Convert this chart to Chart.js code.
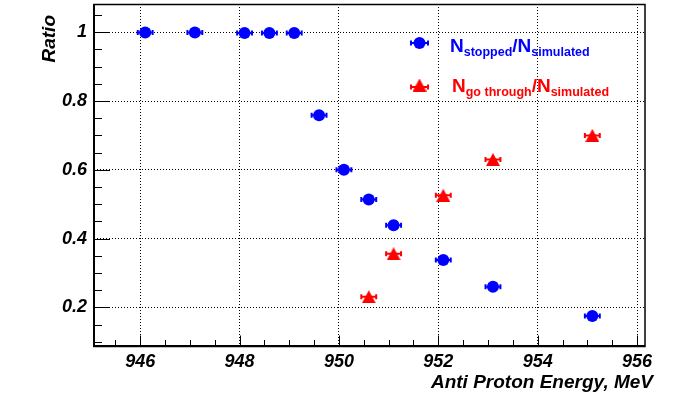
<!DOCTYPE html>
<html>
<head>
<meta charset="utf-8">
<script src="https://cdn.jsdelivr.net/npm/chart.js@4.4.1/dist/chart.umd.min.js"></script>
<style>
html, body { margin: 0; padding: 0; background: #fff; }
canvas { display: block; }
</style>
</head>
<body>
<canvas id="c" width="676" height="395"></canvas>
<script>
// anti proton energy (MeV) and fraction of simulated events
const stoppedX   = [946.1, 947.1, 948.1, 948.6, 949.1, 949.6, 950.1, 950.6, 951.1, 952.1, 953.1, 955.1];
const stoppedY   = [0.999, 0.999, 0.998, 0.998, 0.998, 0.759, 0.600, 0.514, 0.439, 0.338, 0.260, 0.175];
const stoppedErr = [0.15, 0.15, 0.15, 0.15, 0.15, 0.15, 0.15, 0.15, 0.15, 0.15, 0.15, 0.15];

const throughX   = [950.6, 951.1, 952.1, 953.1, 955.1];
const throughY   = [0.231, 0.356, 0.526, 0.630, 0.700];
const throughErr = [0.15, 0.15, 0.15, 0.15, 0.15];

const xTicks = [946, 948, 950, 952, 954, 956];
const yTicks = [0.2, 0.4, 0.6, 0.8, 1];

const BLUE = '#0000ff';
const RED = '#ff0000';
const TICK_FONT = { family: '"Liberation Sans", Arial, sans-serif', size: 18, weight: 'bold', style: 'italic' };

// triangle marker centred on its bounding box (ROOT style)
function makeTriangle(color) {
    const c = document.createElement('canvas');
    c.width = 14; c.height = 13;
    const g = c.getContext('2d');
    g.fillStyle = color;
    g.beginPath();
    g.moveTo(7, 0);
    g.lineTo(14, 13);
    g.lineTo(0, 13);
    g.closePath();
    g.fill();
    return c;
}
const triangle = makeTriangle(RED);

function points(xs, ys, errs) {
    return xs.map((x, i) => ({ x: x, y: ys[i], xErr: errs[i] }));
}

// ==============================
// EXTRA DRAWING (ROOT look)
// ==============================
function drawRatioLabel(ctx, x, y, color, sub1, sub2) {
    const big = 'bold 19px "Liberation Sans", Arial, sans-serif';
    const small = 'bold 12.5px "Liberation Sans", Arial, sans-serif';
    const parts = [['N', big, 0], [sub1, small, 4], ['/N', big, 0], [sub2, small, 4]];
    ctx.fillStyle = color;
    ctx.textAlign = 'left';
    ctx.textBaseline = 'alphabetic';
    parts.forEach(p => {
        ctx.font = p[1];
        ctx.fillText(p[0], x, y + p[2]);
        x += ctx.measureText(p[0]).width;
    });
}

function drawErrBar(ctx, x1, x2, y, color) {
    ctx.strokeStyle = color;
    ctx.lineWidth = 2;
    ctx.beginPath();
    ctx.moveTo(x1, y); ctx.lineTo(x2, y);
    ctx.moveTo(x1, y - 2.5); ctx.lineTo(x1, y + 2.5);
    ctx.moveTo(x2, y - 2.5); ctx.lineTo(x2, y + 2.5);
    ctx.stroke();
}

const rootStyle = {
    id: 'rootStyle',
    beforeDatasetsDraw(chart) {
        const ctx = chart.ctx, xs = chart.scales.x, ys = chart.scales.y;
        ctx.save();
        chart.data.datasets.forEach(ds => {
            ds.data.forEach(p => {
                const py = ys.getPixelForValue(p.y);
                drawErrBar(ctx, xs.getPixelForValue(p.x - p.xErr), xs.getPixelForValue(p.x + p.xErr), py, ds.backgroundColor);
            });
        });
        ctx.restore();
    },
    afterDraw(chart) {
        const ctx = chart.ctx, xs = chart.scales.x, ys = chart.scales.y;
        const a = chart.chartArea;
        ctx.save();

        // ticks inside the frame
        ctx.strokeStyle = '#000';
        ctx.lineWidth = 1;
        ctx.beginPath();
        for (let v = 0.1; v < ys.max; v += 0.05) {
            if (v < ys.min) continue;
            const y = Math.round(ys.getPixelForValue(v)) + 0.5;
            const major = yTicks.some(t => Math.abs(t - v) < 1e-6);
            ctx.moveTo(a.left, y); ctx.lineTo(a.left + (major ? 16 : 8), y);
        }
        for (let v = 945.5; v < xs.max; v += 0.5) {
            const x = Math.round(xs.getPixelForValue(v)) + 0.5;
            const major = xTicks.some(t => Math.abs(t - v) < 1e-6);
            ctx.moveTo(x, a.bottom); ctx.lineTo(x, a.bottom - (major ? 10.5 : 6));
        }
        ctx.stroke();

        // frame
        ctx.lineWidth = 1.5;
        ctx.strokeRect(a.left, a.top + 0.5, a.right - a.left, a.bottom - a.top);
        ctx.lineWidth = 2;
        ctx.beginPath();
        ctx.moveTo(a.left, a.top); ctx.lineTo(a.left, a.bottom); ctx.lineTo(a.right, a.bottom);
        ctx.stroke();

        // axis titles
        ctx.fillStyle = '#000';
        ctx.font = 'italic bold 19px "Liberation Sans", Arial, sans-serif';
        ctx.textAlign = 'right';
        ctx.textBaseline = 'alphabetic';
        ctx.fillText('Anti Proton Energy, MeV', 653, 388);
        ctx.save();
        ctx.translate(55, 15);
        ctx.rotate(-Math.PI / 2);
        ctx.fillText('Ratio', 0, 0);
        ctx.restore();

        // legend
        drawErrBar(ctx, 411, 428, 43, BLUE);
        ctx.fillStyle = BLUE;
        ctx.beginPath();
        ctx.arc(419.5, 43, 6, 0, Math.PI * 2);
        ctx.fill();
        drawRatioLabel(ctx, 450, 51.5, BLUE, 'stopped', 'simulated');

        drawErrBar(ctx, 411, 428, 87, RED);
        ctx.drawImage(triangle, 419.5 - 7, 85 - 6.5);
        drawRatioLabel(ctx, 452, 92, RED, 'go through', 'simulated');

        ctx.restore();
    }
};

// ==============================
// CHART
// ==============================
new Chart(document.getElementById('c'), {
    type: 'scatter',
    data: {
        datasets: [
            {
                label: 'N stopped / N simulated',
                data: points(stoppedX, stoppedY, stoppedErr),
                backgroundColor: BLUE,
                borderWidth: 0,
                pointStyle: 'circle',
                pointRadius: 6,
                pointHoverRadius: 6
            },
            {
                label: 'N go through / N simulated',
                data: points(throughX, throughY, throughErr),
                backgroundColor: RED,
                borderWidth: 0,
                pointStyle: triangle,
                pointRadius: 7,
                pointHoverRadius: 7
            }
        ]
    },
    options: {
        responsive: false,
        animation: false,
        devicePixelRatio: 1,
        events: [],
        layout: { autoPadding: false, padding: { top: 4, right: 31, bottom: 0, left: 0 } },
        plugins: {
            legend: { display: false },
            tooltip: { enabled: false }
        },
        scales: {
            x: {
                type: 'linear',
                min: 945.07,
                max: 956.16,
                afterBuildTicks: s => { s.ticks = xTicks.map(v => ({ value: v })); },
                afterFit: s => { s.height = 49; s.paddingLeft = 0; s.paddingRight = 0; },
                grid: { color: '#000', lineWidth: 1, drawTicks: false },
                border: { display: false, dash: [1, 2] },
                ticks: {
                    color: '#000',
                    font: TICK_FONT,
                    padding: 5,
                    maxRotation: 0,
                    callback: v => String(v)
                }
            },
            y: {
                type: 'linear',
                min: 0.088,
                max: 1.082,
                afterBuildTicks: s => { s.ticks = yTicks.map(v => ({ value: v })); },
                afterFit: s => { s.width = 94; s.paddingTop = 0; s.paddingBottom = 0; },
                grid: { color: '#000', lineWidth: 1, drawTicks: false },
                border: { display: false, dash: [1, 2] },
                ticks: {
                    color: '#000',
                    font: TICK_FONT,
                    padding: 7,
                    callback: v => String(v)
                }
            }
        }
    },
    plugins: [rootStyle]
});
</script>
</body>
</html>
